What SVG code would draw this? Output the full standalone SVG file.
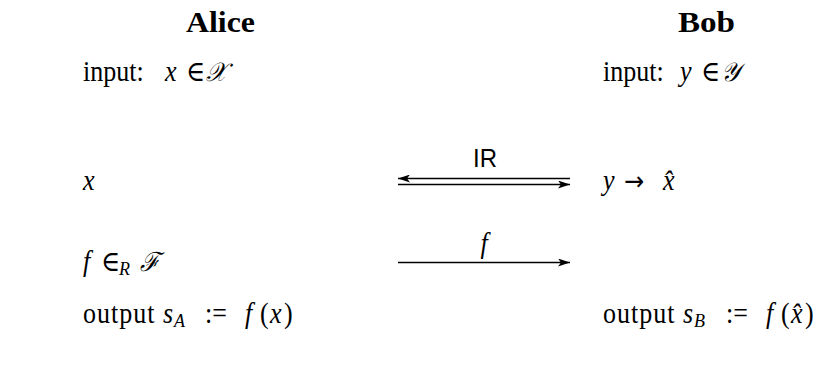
<svg xmlns="http://www.w3.org/2000/svg" width="832" height="382" viewBox="0 0 832 382">
<defs>
<marker id="ah" markerWidth="12" markerHeight="8" refX="12" refY="4" orient="auto" markerUnits="userSpaceOnUse">
<path d="M0,0 L12,4 L0,8 L3,4 Z" fill="#000"/>
</marker>
<style>
text{font-family:"Liberation Serif","DejaVu Serif",serif;font-size:26px;fill:#000}
.b{font-weight:bold;font-size:26px}
.i{font-style:italic}
.s{font-family:"Liberation Sans",Arial,sans-serif;font-size:24px}
.sub{font-size:18px;font-style:italic}
.c{font-family:"DejaVu Serif",serif;font-style:italic;font-size:24px}
.d{font-family:"DejaVu Sans",sans-serif;font-size:24px}
.w{letter-spacing:1px}
line{stroke:#000;stroke-width:1.5}
</style>
</defs>
<rect width="832" height="382" fill="#fff"/>
<g id="alice">
<text transform="matrix(1 0 0 1.15 0 32)" x="186" textLength="69" lengthAdjust="spacingAndGlyphs" class="b">Alice</text>
<text transform="matrix(1 0 0 1.1 0 81)"><tspan x="83">input:</tspan><tspan x="165" class="i">x</tspan><tspan x="186">∈</tspan><tspan x="206" class="c">𝒳</tspan></text>
<text transform="matrix(1 0 0 1.1 0 190)" x="83" class="i">x</text>
<text transform="matrix(1 0 0 1.1 0 271)"><tspan x="83" class="i">f</tspan><tspan x="101">∈</tspan><tspan x="119" dy="4" class="sub">R</tspan><tspan x="140" dy="-4" class="c">ℱ</tspan></text>
<text transform="matrix(1 0 0 1.1 0 323)"><tspan x="83" class="w">output</tspan><tspan x="163" class="i">s</tspan><tspan x="174" dy="4" class="sub">A</tspan><tspan x="205" dy="-4">:=</tspan><tspan x="245" class="i">f</tspan><tspan x="260">(</tspan><tspan x="270" class="i">x</tspan><tspan x="284">)</tspan></text>
</g>
<g id="bob">
<text transform="matrix(1 0 0 1.15 0 32)" x="678" textLength="57" lengthAdjust="spacingAndGlyphs" class="b">Bob</text>
<text transform="matrix(1 0 0 1.1 0 81)"><tspan x="603">input:</tspan><tspan x="680" class="i">y</tspan><tspan x="701">∈</tspan><tspan x="721" class="c">𝒴</tspan></text>
<text transform="matrix(1 0 0 1.1 0 190)"><tspan x="603" class="i">y</tspan><tspan x="624" class="d">→</tspan><tspan x="663" class="i">x̂</tspan></text>
<text transform="matrix(1 0 0 1.1 0 323)"><tspan x="603" class="w">output</tspan><tspan x="683" class="i">s</tspan><tspan x="694" dy="4" class="sub">B</tspan><tspan x="726" dy="-4">:=</tspan><tspan x="766" class="i">f</tspan><tspan x="781">(</tspan><tspan x="791" class="i">x̂</tspan><tspan x="805">)</tspan></text>
</g>
<g id="connectors">
<line x1="570" y1="178.5" x2="398" y2="178.5" marker-end="url(#ah)"/>
<line x1="398" y1="184.5" x2="570" y2="184.5" marker-end="url(#ah)"/>
<text transform="matrix(1 0 0 1.05 0 167)" x="485" text-anchor="middle" class="s">IR</text>
<line x1="398" y1="262.5" x2="570" y2="262.5" marker-end="url(#ah)"/>
<text transform="matrix(1 0 0 1.1 0 253)" x="484" text-anchor="middle" class="i">f</text>
</g>
</svg>
